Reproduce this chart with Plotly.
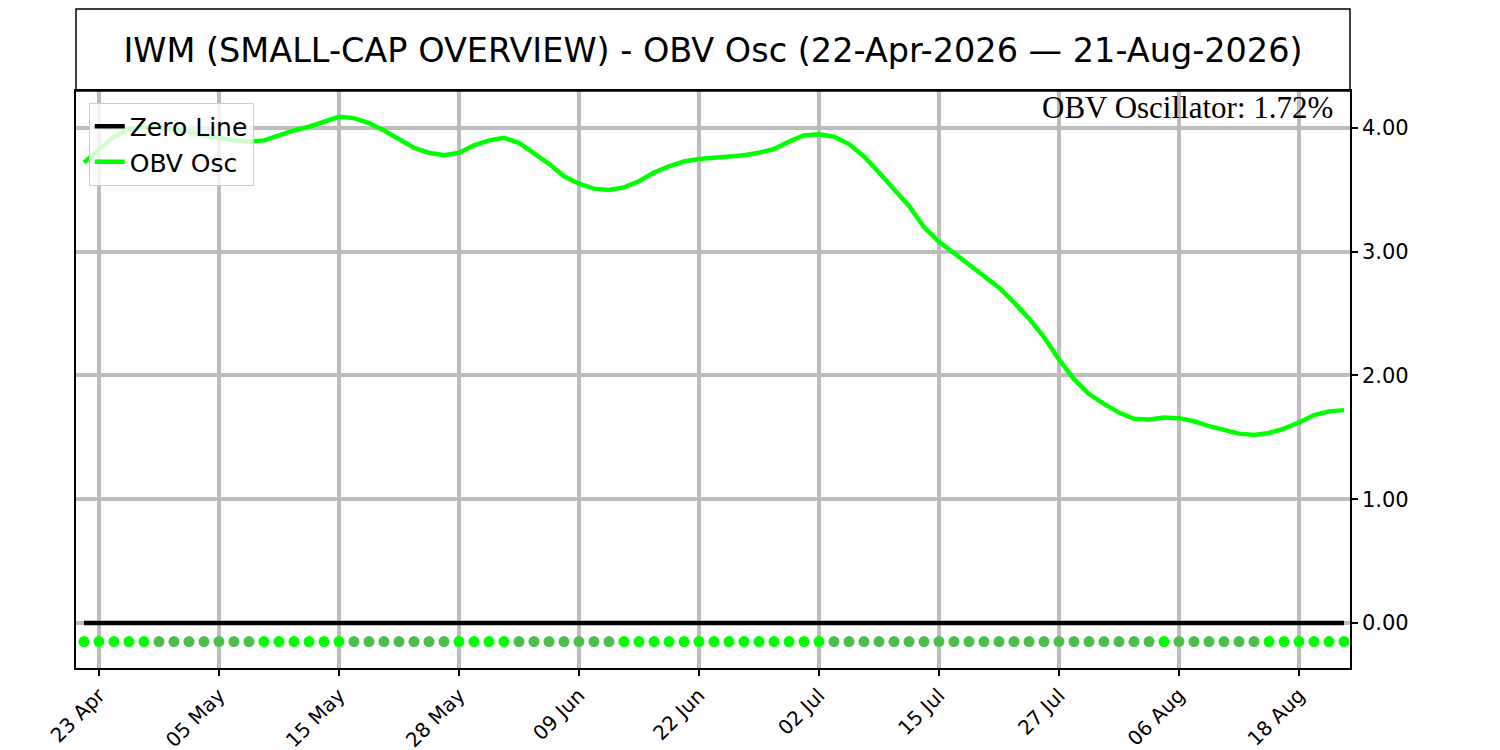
import pandas as pd
import plotly.graph_objects as go

# IWM small-cap overview - OBV oscillator, daily trading sessions
START, END = "2026-04-22", "2026-08-21"
HOLIDAYS = ["2026-05-25", "2026-06-19", "2026-07-03"]

obv_osc = [
    3.72, 3.83, 3.93, 3.99, 4.01, 4.00, 3.99, 3.97, 3.94, 3.92,
    3.90, 3.89, 3.90, 3.94, 3.98, 4.01, 4.05, 4.09, 4.08, 4.04,
    3.98, 3.91, 3.84, 3.80, 3.78, 3.80, 3.86, 3.90, 3.92, 3.88,
    3.80, 3.71, 3.61, 3.55, 3.51, 3.50, 3.52, 3.57, 3.64, 3.69,
    3.73, 3.75, 3.76, 3.77, 3.78, 3.80, 3.83, 3.89, 3.94, 3.95,
    3.93, 3.87, 3.77, 3.64, 3.51, 3.37, 3.20, 3.08, 2.99, 2.90,
    2.80, 2.71, 2.59, 2.46, 2.31, 2.13, 1.97, 1.85, 1.77, 1.70,
    1.65, 1.645, 1.66, 1.655, 1.63, 1.59, 1.56, 1.53, 1.52, 1.535,
    1.57, 1.62, 1.68, 1.71, 1.72,
]

tick_dates = ["2026-04-23", "2026-05-05", "2026-05-15", "2026-05-28", "2026-06-09",
              "2026-06-22", "2026-07-02", "2026-07-15", "2026-07-27", "2026-08-06",
              "2026-08-18"]
tick_labels = ["23 Apr", "05 May", "15 May", "28 May", "09 Jun", "22 Jun",
               "02 Jul", "15 Jul", "27 Jul", "06 Aug", "18 Aug"]
y_ticks = [0, 1, 2, 3, 4]

DOT_LEVEL = -0.15  # row of trend dots just under the zero line

TITLE = "IWM (SMALL-CAP OVERVIEW) - OBV Osc (22-Apr-2026 \u2014 21-Aug-2026)"


def main():
    days = pd.bdate_range(START, END, freq="C", holidays=HOLIDAYS)
    x = [d.strftime("%Y-%m-%d") for d in days]

    # rising days bright green, falling days muted green
    rising = [True] + [b >= a for a, b in zip(obv_osc, obv_osc[1:])]
    dot_colors = ["#00ff00" if r else "#4cbf4a" for r in rising]

    fig = go.Figure()
    fig.add_trace(go.Scatter(x=x, y=[0] * len(x), mode="lines", name="Zero Line",
                             line=dict(color="black", width=4.5)))
    fig.add_trace(go.Scatter(x=x, y=obv_osc, mode="lines", name="OBV Osc",
                             line=dict(color="#00ff00", width=4.5)))
    fig.add_trace(go.Scatter(x=x, y=[DOT_LEVEL] * len(x), mode="markers",
                             showlegend=False,
                             marker=dict(color=dot_colors, size=11, line=dict(width=0))))

    # page body adds ~7px offset, so margins are pulled in by that much
    fig.update_layout(
        width=1500, height=750,
        margin=dict(l=68, r=158, t=83, b=90, autoexpand=False),
        paper_bgcolor="white", plot_bgcolor="white",
        font=dict(family="DejaVu Sans", size=21, color="black"),
        title=dict(text=TITLE, x=0.5, xref="paper", xanchor="center",
                   y=0.944, yanchor="middle", font=dict(size=33.5)),
        legend=dict(x=0.01, y=0.98, xanchor="left", yanchor="top",
                    bgcolor="rgba(255,255,255,0.8)", bordercolor="#cccccc",
                    borderwidth=1, font=dict(size=25), tracegroupgap=0,
                    itemwidth=30),
        showlegend=True,
    )

    fig.update_xaxes(
        type="category", range=[-0.53, 84.4],
        tickmode="array", tickvals=tick_dates, ticktext=tick_labels,
        tickangle=-45, ticks="outside", ticklen=6, tickwidth=1.5, tickcolor="black",
        showgrid=True, gridcolor="#bdbdbd", gridwidth=4,
        showline=True, mirror=True, linecolor="black", linewidth=1.5,
        tickfont=dict(size=20),
    )
    fig.update_yaxes(
        side="right", range=[-0.364, 4.299],
        tickmode="array", tickvals=y_ticks, tickformat=".2f",
        ticks="outside", ticklen=6, tickwidth=1.5, tickcolor="black",
        showgrid=True, gridcolor="#bdbdbd", gridwidth=4, zeroline=False,
        showline=True, mirror=True, linecolor="black", linewidth=1.5,
        tickfont=dict(size=21),
    )

    # boxed title strip above the plot
    fig.add_shape(type="rect", xref="paper", yref="paper",
                  x0=0, x1=1, y0=1, y1=1.142,
                  line=dict(color="black", width=1.5), fillcolor="rgba(0,0,0,0)")

    fig.add_annotation(xref="paper", yref="paper", x=0.988, y=1.006,
                       xanchor="right", yanchor="top", showarrow=False,
                       text=f"OBV Oscillator: {obv_osc[-1]:.2f}%",
                       font=dict(family="Liberation Serif", size=31, color="black"))

    fig.write_html("out.html")


if __name__ == "__main__":
    main()
